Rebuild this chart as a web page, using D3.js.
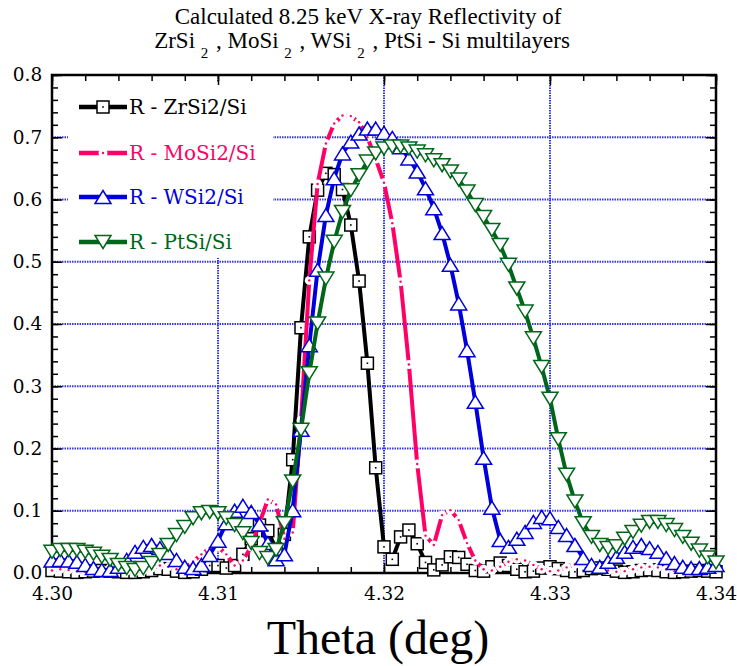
<!DOCTYPE html>
<html>
<head>
<meta charset="utf-8">
<script src="https://cdn.jsdelivr.net/npm/d3@7"></script>
<style>
  body { margin: 0; background: #fff; }
  svg { display: block; }
</style>
</head>
<body>
<div id="chart"></div>
<script>
        // Data: theta grid (deg) and reflectivity for each multilayer
        const theta = [
            4.3000, 4.3005, 4.3010, 4.3015, 4.3020, 4.3025, 4.3030, 4.3035, 4.3040, 4.3045,
            4.3050, 4.3055, 4.3060, 4.3065, 4.3070, 4.3075, 4.3080, 4.3085, 4.3090, 4.3095,
            4.3100, 4.3105, 4.3110, 4.3115, 4.3120, 4.3125, 4.3130, 4.3135, 4.3140, 4.3145,
            4.3150, 4.3155, 4.3160, 4.3165, 4.3170, 4.3175, 4.3180, 4.3185, 4.3190, 4.3195,
            4.3200, 4.3205, 4.3210, 4.3215, 4.3220, 4.3225, 4.3230, 4.3235, 4.3240, 4.3245,
            4.3250, 4.3255, 4.3260, 4.3265, 4.3270, 4.3275, 4.3280, 4.3285, 4.3290, 4.3295,
            4.3300, 4.3305, 4.3310, 4.3315, 4.3320, 4.3325, 4.3330, 4.3335, 4.3340, 4.3345,
            4.3350, 4.3355, 4.3360, 4.3365, 4.3370, 4.3375, 4.3380, 4.3385, 4.3390, 4.3395,
            4.3400
        ];

        const rZrSi2 = [
            0.004, 0.003, 0.002, 0.001, 0.002, 0.003, 0.004, 0.003, 0.002, 0.001,
            0.001, 0.002, 0.004, 0.007, 0.006, 0.003, 0.001, 0.002, 0.006, 0.012,
            0.012, 0.008, 0.012, 0.030, 0.055, 0.077, 0.068, 0.038, 0.062, 0.182,
            0.394, 0.540, 0.615, 0.642, 0.640, 0.616, 0.559, 0.469, 0.337, 0.169,
            0.042, 0.022, 0.058, 0.069, 0.047, 0.017, 0.005, 0.013, 0.026, 0.025,
            0.014, 0.004, 0.003, 0.010, 0.016, 0.012, 0.006, 0.002, 0.003, 0.008,
            0.010, 0.007, 0.004, 0.002, 0.004, 0.007, 0.008, 0.006, 0.003, 0.001,
            0.002, 0.004, 0.005, 0.004, 0.002, 0.001, 0.002, 0.003, 0.004, 0.003,
            0.002
        ];

        const rMoSi2 = [
            0.004, 0.006, 0.005, 0.003, 0.002, 0.003, 0.006, 0.008, 0.006, 0.003,
            0.002, 0.004, 0.008, 0.012, 0.010, 0.006, 0.008, 0.018, 0.030, 0.040,
            0.042, 0.030, 0.012, 0.020, 0.042, 0.080, 0.118, 0.110, 0.055, 0.065,
            0.245, 0.470, 0.625, 0.690, 0.722, 0.735, 0.734, 0.724, 0.700, 0.665,
            0.627, 0.562, 0.468, 0.335, 0.175, 0.060, 0.045, 0.093, 0.101, 0.085,
            0.048, 0.020, 0.006, 0.004, 0.010, 0.018, 0.022, 0.020, 0.013, 0.006,
            0.003, 0.004, 0.009, 0.014, 0.016, 0.013, 0.008, 0.004, 0.002, 0.003,
            0.006, 0.009, 0.010, 0.009, 0.006, 0.003, 0.002, 0.002, 0.004, 0.006,
            0.006
        ];

        const rWSi2 = [
            0.020, 0.021, 0.020, 0.018, 0.013, 0.008, 0.005, 0.005, 0.010, 0.021,
            0.034, 0.042, 0.045, 0.040, 0.032, 0.021, 0.010, 0.008, 0.013, 0.029,
            0.052, 0.080, 0.100, 0.108, 0.098, 0.078, 0.048, 0.022, 0.030, 0.101,
            0.230, 0.366, 0.487, 0.575, 0.634, 0.674, 0.693, 0.706, 0.714, 0.714,
            0.707, 0.699, 0.684, 0.666, 0.645, 0.618, 0.586, 0.546, 0.495, 0.433,
            0.358, 0.275, 0.185, 0.105, 0.053, 0.042, 0.055, 0.066, 0.082, 0.090,
            0.088, 0.074, 0.061, 0.045, 0.024, 0.013, 0.010, 0.018, 0.026, 0.034,
            0.042, 0.045, 0.040, 0.034, 0.024, 0.016, 0.010, 0.008, 0.008, 0.010,
            0.013
        ];

        const rPtSi = [
            0.034, 0.037, 0.037, 0.037, 0.034, 0.031, 0.026, 0.021, 0.013, 0.008,
            0.005, 0.008, 0.016, 0.029, 0.045, 0.061, 0.074, 0.088, 0.096, 0.098,
            0.096, 0.088, 0.077, 0.064, 0.048, 0.032, 0.024, 0.037, 0.080, 0.147,
            0.230, 0.321, 0.401, 0.473, 0.532, 0.580, 0.615, 0.639, 0.661, 0.674,
            0.682, 0.685, 0.685, 0.682, 0.677, 0.671, 0.663, 0.655, 0.645, 0.632,
            0.613, 0.591, 0.572, 0.551, 0.527, 0.495, 0.457, 0.420, 0.377, 0.331,
            0.280, 0.215, 0.158, 0.115, 0.080, 0.058, 0.045, 0.040, 0.043, 0.055,
            0.066, 0.076, 0.082, 0.082, 0.077, 0.069, 0.058, 0.047, 0.036, 0.025,
            0.017
        ];

        const xTicks = [4.30, 4.31, 4.32, 4.33, 4.34];
        const yTicks = [0.0, 0.1, 0.2, 0.3, 0.4, 0.5, 0.6, 0.7, 0.8];

        const seriesNames = ["R - ZrSi2/Si", "R - MoSi2/Si", "R - WSi2/Si", "R - PtSi/Si"];
        const seriesValues = [rZrSi2, rMoSi2, rWSi2, rPtSi];
        const seriesColors = ["#000000", "#ff0066", "#0000dd", "#006619"];
        const seriesMarkers = ["square", "dot", "up", "down"];

        // Sizes
        const W = 737, H = 666;
        const margin = {top: 75, right: 21, bottom: 93, left: 52};
        const width = W - margin.left - margin.right;
        const height = H - margin.top - margin.bottom;

        const root = d3.select("#chart")
            .append("svg")
            .attr("width", W)
            .attr("height", H);

        const svg = root.append("g")
            .attr("transform", `translate(${margin.left},${margin.top})`);

        // Scales
        const x = d3.scaleLinear().domain([4.30, 4.34]).range([0, width]);
        const y = d3.scaleLinear().domain([0, 0.8]).range([height, 0]);

        const serif = "'DejaVu Serif', serif";
        const times = "'Liberation Serif', 'Times New Roman', serif";

        // Grid
        const grid = svg.append("g")
            .attr("stroke", "#3535ee")
            .attr("stroke-width", 2)
            .attr("stroke-dasharray", "1.5,1");
        grid.selectAll(".gx")
            .data(xTicks.slice(1, -1))
            .enter().append("line")
            .attr("x1", d => x(d)).attr("x2", d => x(d))
            .attr("y1", 0).attr("y2", height);
        grid.selectAll(".gy")
            .data(yTicks.slice(0, -1))
            .enter().append("line")
            .attr("x1", 0).attr("x2", width)
            .attr("y1", d => y(d)).attr("y2", d => y(d));

        // Legend box hides the grid under it
        svg.append("rect")
            .attr("x", 16).attr("y", 7)
            .attr("width", 205).attr("height", 176)
            .attr("fill", "#fff");

        // Axes: ticks point inward on all four sides
        const minorX = d3.range(4.30, 4.3401, 0.002);
        const minorY = d3.range(0, 0.8001, 0.02);

        function addAxis(axisFn, scale, ticks, size, transform, labels) {
            const g = svg.append("g")
                .attr("transform", transform)
                .call(axisFn(scale).tickValues(ticks).tickSize(-size)
                    .tickFormat(labels || "").tickPadding(8));
            g.select(".domain").remove();
            g.selectAll(".tick line").attr("stroke", "#000").attr("stroke-width", 1.5);
            return g;
        }

        addAxis(d3.axisBottom, x, minorX, 6, `translate(0,${height})`);
        addAxis(d3.axisTop, x, minorX, 6, "translate(0,0)");
        addAxis(d3.axisLeft, y, minorY, 6, "translate(0,0)");
        addAxis(d3.axisRight, y, minorY, 6, `translate(${width},0)`);

        const xAxis = addAxis(d3.axisBottom, x, xTicks, 10, `translate(0,${height})`, d3.format(".2f"));
        addAxis(d3.axisTop, x, xTicks, 10, "translate(0,0)");
        const yAxis = addAxis(d3.axisLeft, y, yTicks, 10, "translate(0,0)", d3.format(".1f"));
        addAxis(d3.axisRight, y, yTicks, 10, `translate(${width},0)`);

        xAxis.selectAll("text")
            .attr("font-family", serif).attr("font-size", 18.5)
            .attr("fill", "#000").attr("dy", "1.05em");
        yAxis.selectAll("text")
            .attr("font-family", serif).attr("font-size", 18.5)
            .attr("fill", "#000").attr("dx", "-0.1em");

        // Frame
        svg.append("rect")
            .attr("width", width).attr("height", height)
            .attr("fill", "none").attr("stroke", "#000").attr("stroke-width", 2.5);

        // Markers
        const upPath = "M0,-6.5L8,6.5L-8,6.5Z";
        const downPath = "M0,6.5L8,-6.5L-8,-6.5Z";

        function drawMarker(g, kind, color) {
            if (kind === "square") {
                g.append("rect").attr("x", -6).attr("y", -6).attr("width", 12).attr("height", 12)
                    .attr("fill", "#fff").attr("stroke", color).attr("stroke-width", 1.5);
                g.append("rect").attr("x", -0.8).attr("y", -0.8).attr("width", 1.6).attr("height", 1.6)
                    .attr("fill", color);
            } else if (kind === "dot") {
                g.append("circle").attr("r", 4.5).attr("fill", "#fff");
                g.append("circle").attr("r", 1.2).attr("fill", color);
            } else {
                g.append("path").attr("d", kind === "up" ? upPath : downPath)
                    .attr("fill", "#fff").attr("stroke", color).attr("stroke-width", 1.5);
            }
        }

        const line = d3.line()
            .x(d => x(d[0]))
            .y(d => y(d[1]));

        seriesValues.forEach((vals, k) => {
            const pts = theta.map((t, i) => [t, vals[i]]);
            const g = svg.append("g");
            g.append("path")
                .datum(pts)
                .attr("d", line)
                .attr("fill", "none")
                .attr("stroke", seriesColors[k])
                .attr("stroke-width", 4)
                .attr("stroke-linejoin", "round");
            g.selectAll(".m")
                .data(pts)
                .enter().append("g")
                .attr("transform", d => `translate(${x(d[0])},${y(d[1])})`)
                .each(function() { drawMarker(d3.select(this), seriesMarkers[k], seriesColors[k]); });
        });

        // Legend
        const legendY = [32, 78, 122, 167];
        seriesNames.forEach((name, k) => {
            const lg = svg.append("g").attr("transform", `translate(0,${legendY[k]})`);
            lg.append("line")
                .attr("x1", 27).attr("x2", 75)
                .attr("stroke", seriesColors[k]).attr("stroke-width", 4.5);
            const mk = lg.append("g").attr("transform", "translate(51,0)");
            drawMarker(mk, seriesMarkers[k], seriesColors[k]);
            lg.append("text")
                .attr("x", 77).attr("y", 7)
                .attr("font-family", serif).attr("font-size", 20)
                .attr("fill", seriesColors[k])
                .text(name);
        });

        // Title
        const title = root.append("text")
            .attr("text-anchor", "middle")
            .attr("font-family", times)
            .attr("font-size", 23)
            .attr("fill", "#000");
        title.append("tspan").attr("x", 368).attr("y", 24)
            .text("Calculated 8.25 keV X-ray Reflectivity of");

        const t2 = root.append("text")
            .attr("x", 362).attr("y", 48)
            .attr("text-anchor", "middle")
            .attr("font-family", times)
            .attr("font-size", 23)
            .attr("fill", "#000");
        [["ZrSi ", "2"], [" , MoSi ", "2"], [" , WSi ", "2"], [" , PtSi - Si multilayers", null]]
            .forEach(([main, sub]) => {
                t2.append("tspan").attr("dy", 0).text(main);
                if (sub) {
                    t2.append("tspan").attr("dy", 10).attr("font-size", 15).text(sub);
                    t2.append("tspan").attr("dy", -10).text("\u200a");
                }
            });

        // Axis title
        root.append("text")
            .attr("x", 378).attr("y", 654)
            .attr("text-anchor", "middle")
            .attr("font-family", times)
            .attr("font-size", 48)
            .attr("fill", "#000")
            .text("Theta (deg)");
</script>
</body>
</html>
